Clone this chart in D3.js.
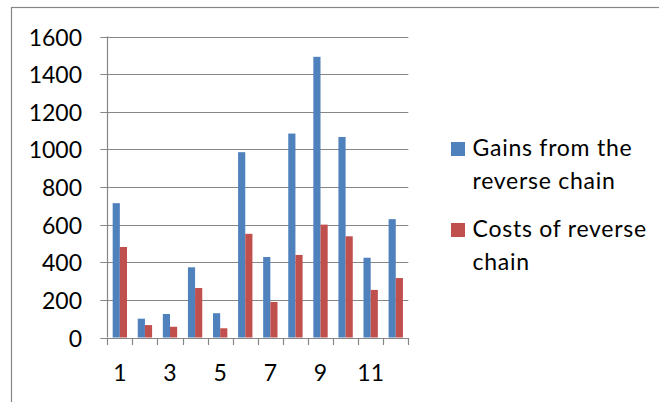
<!DOCTYPE html>
<html>
<head>
<meta charset="utf-8">
<script src="https://cdn.jsdelivr.net/npm/d3@7"></script>
<style>
  html, body { margin: 0; padding: 0; background: #fff; }
  svg { display: block; }
  text { font-family: Lato, "Open Sans", sans-serif; fill: #000; }
</style>
</head>
<body>
<svg id="chart" width="659" height="402"></svg>
<script>
// Monthly figures for the reverse chain
const categories = [1, 2, 3, 4, 5, 6, 7, 8, 9, 10, 11, 12];
const gains = [714, 100, 125, 373, 129, 985, 428, 1084, 1492, 1066, 424, 629];
const costs = [481, 66, 57, 263, 49, 551, 189, 439, 600, 538, 253, 316];
const seriesNames = ["Gains from the reverse chain", "Costs of reverse chain"];
const legendLines = [["Gains from the", "reverse chain"], ["Costs of reverse", "chain"]];
const yTicks = [0, 200, 400, 600, 800, 1000, 1200, 1400, 1600];
const xTickLabels = [1, 3, 5, 7, 9, 11];
const colors = ["#4F81BD", "#C0504D"];

const svg = d3.select("#chart");
const plot = { left: 107.3, right: 408.3, top: 36.5, bottom: 337.5 };
const gridColor = "#868686";

// Outer frame of the chart area
svg.append("rect")
  .attr("x", 11.5).attr("y", 7.5)
  .attr("width", 800).attr("height", 600)
  .attr("fill", "none").attr("stroke", gridColor).attr("stroke-width", 1.2);

const y = d3.scaleLinear().domain([0, 1600]).range([plot.bottom, plot.top]);
const x0 = d3.scaleBand().domain(categories).range([plot.left, plot.right])
  .paddingInner(0).paddingOuter(0);
const x1 = d3.scaleBand().domain(seriesNames).range([0, x0.bandwidth()])
  .paddingInner(0).paddingOuter(0.75);

// Horizontal gridlines with left tick stubs
svg.append("g").selectAll("line").data(yTicks.filter(d => d > 0)).join("line")
  .attr("x1", plot.left - 7).attr("x2", plot.right)
  .attr("y1", d => Math.round(y(d)) + 0.5).attr("y2", d => Math.round(y(d)) + 0.5)
  .attr("stroke", gridColor).attr("stroke-width", 1.2);

// Y tick labels
svg.append("g").selectAll("text").data(yTicks).join("text")
  .attr("x", 82).attr("y", d => y(d))
  .attr("text-anchor", "end").attr("dominant-baseline", "central")
  .style("font-size", "23px")
  .text(d => d);

// Bars
const rows = categories.map((c, i) => ({ cat: c, values: [gains[i], costs[i]] }));
const groups = svg.append("g").selectAll("g").data(rows).join("g")
  .attr("transform", d => `translate(${x0(d.cat)},0)`);
groups.selectAll("rect").data(d => d.values.map((v, k) => ({ v, k }))).join("rect")
  .attr("x", d => x1(seriesNames[d.k]))
  .attr("width", x1.bandwidth())
  .attr("y", d => y(d.v))
  .attr("height", d => y(0) - y(d.v))
  .attr("fill", d => colors[d.k]);

// Axes lines
svg.append("line")
  .attr("x1", Math.round(plot.left) + 0.5).attr("x2", Math.round(plot.left) + 0.5)
  .attr("y1", plot.top).attr("y2", plot.bottom)
  .attr("stroke", gridColor).attr("stroke-width", 1.2);
svg.append("line")
  .attr("x1", plot.left - 7).attr("x2", plot.right)
  .attr("y1", Math.round(y(0)) + 0.5).attr("y2", Math.round(y(0)) + 0.5)
  .attr("stroke", gridColor).attr("stroke-width", 1.2);

// X tick marks at category boundaries
const boundaries = categories.map(c => x0(c)).concat([plot.right]);
svg.append("g").selectAll("line").data(boundaries).join("line")
  .attr("x1", d => Math.round(d) + 0.5).attr("x2", d => Math.round(d) + 0.5)
  .attr("y1", Math.round(y(0))).attr("y2", Math.round(y(0)) + 7)
  .attr("stroke", gridColor).attr("stroke-width", 1.2);

// X labels on odd categories
svg.append("g").selectAll("text").data(xTickLabels).join("text")
  .attr("x", d => x0(d) + x0.bandwidth() / 2)
  .attr("y", 380.5)
  .attr("text-anchor", "middle")
  .style("font-size", "23px")
  .text(d => d);

// Legend
const legendRows = [156, 237];
const legend = svg.append("g").selectAll("g").data(seriesNames).join("g");
legend.append("rect")
  .attr("x", 451).attr("y", (d, i) => legendRows[i] - 14)
  .attr("width", 14).attr("height", 14)
  .attr("fill", (d, i) => colors[i]);
legend.append("text")
  .attr("x", 472.5).attr("y", (d, i) => legendRows[i])
  .style("font-size", "23px")
  .style("letter-spacing", "0.75px")
  .selectAll("tspan").data((d, i) => legendLines[i]).join("tspan")
  .attr("x", 472.5).attr("dy", (t, j) => j === 0 ? 0 : 33)
  .text(t => t);
</script>
</body>
</html>
